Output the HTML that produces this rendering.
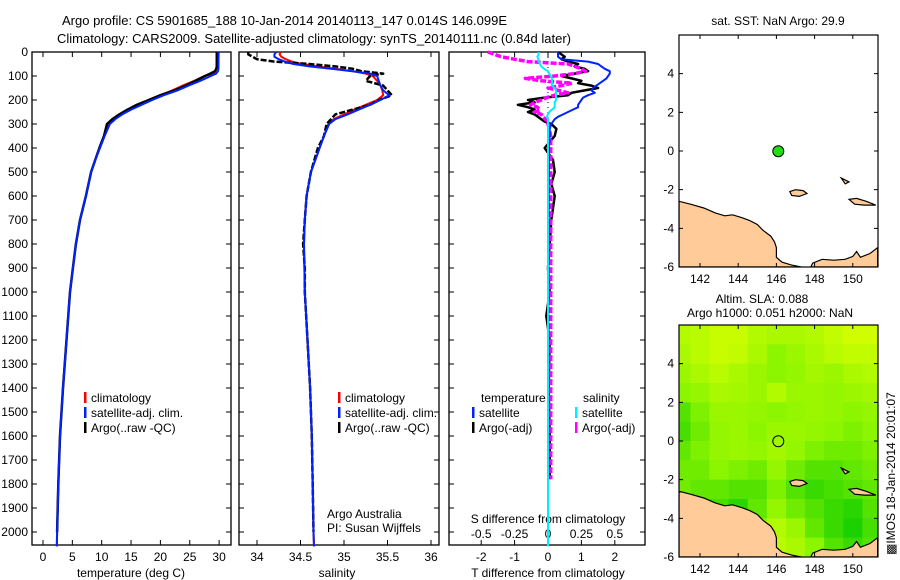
<!DOCTYPE html>
<html><head><meta charset="utf-8">
<style>
html,body{margin:0;padding:0;background:#fff;}
svg{display:block;font-family:"Liberation Sans",sans-serif;}
text{font-size:12px;fill:#000;}
</style></head>
<body>
<svg id="chart" width="900" height="580" viewBox="0 0 900 580" xmlns="http://www.w3.org/2000/svg">
<text x="62" y="25" style="font-size:13px">Argo profile: CS 5901685_188 10-Jan-2014 20140113_147 0.014S 146.099E</text>
<text x="57" y="43" style="font-size:13px">Climatology: CARS2009. Satellite-adjusted climatology: synTS_20140111.nc (0.84d later)</text>
<g id="g1"></g>
<g id="g2"></g>
<g id="g3"></g>
<g id="m1"></g>
<g id="m2"></g>
<text transform="translate(895,555) rotate(-90)" style="font-size:12px">&#9641;IMOS 18-Jan-2014 20:01:07</text>
</svg>
<script>
// ---- profile data ----
const depth = [0,10,20,30,40,50,60,70,80,90,100,120,140,160,180,200,220,240,260,280,300,350,400,450,500,600,700,800,900,1000,1200,1400,1600,1800,2000,2060];
const tSat  = [29.9,29.9,29.9,29.9,29.9,29.9,29.9,29.9,29.8,29.5,28.6,26.8,24.8,22.9,20.6,18.6,16.8,15.0,13.5,12.3,11.4,10.5,9.7,8.9,8.2,7.3,6.3,5.6,5.1,4.6,4.0,3.4,2.9,2.6,2.4,2.35];
const tClim = [29.6,29.6,29.6,29.6,29.6,29.6,29.6,29.5,29.4,29.0,27.5,25.8,23.8,22.0,20.0,18.2,16.2,14.5,13.2,12.1,11.3,10.5,9.7,8.9,8.2,7.3,6.3,5.6,5.1,4.6,4.0,3.4,2.9,2.6,2.4,2.35];
const tArgo = [29.6,29.6,29.6,29.6,29.6,29.6,29.6,29.5,29.3,28.5,27.6,26.0,24.3,22.4,20.0,18.0,16.0,14.4,13.0,11.8,10.9,10.4,9.6,8.9,8.2,7.3,6.3,5.6,5.1,4.6,4.0,3.4,2.9,2.6,2.4,null];
const sSat  = [34.22,34.2,34.2,34.25,34.32,34.42,34.6,34.85,35.1,35.3,35.38,35.4,35.42,35.45,35.52,35.42,35.3,35.17,35.04,34.9,34.83,34.77,34.72,34.67,34.62,34.57,34.55,34.54,34.545,34.55,34.58,34.61,34.63,34.64,34.65,34.655];
const sClim = [34.27,34.26,34.28,34.33,34.4,34.52,34.7,34.9,35.1,35.25,35.33,35.38,35.42,35.44,35.45,35.38,35.25,35.12,35.0,34.88,34.82,34.77,34.72,34.67,34.62,34.57,34.55,34.54,34.545,34.55,34.58,34.61,34.63,34.64,34.65,34.655];
const sArgo = [33.9,33.9,33.95,34.0,34.2,34.6,34.9,35.1,35.2,35.45,35.3,35.25,35.45,35.5,35.55,35.4,35.3,35.1,34.9,34.85,34.8,34.77,34.7,34.66,34.62,34.57,34.55,34.53,34.55,34.55,34.58,34.61,34.63,34.64,34.65,null];
// ---- difference data ----
const dDepth = [0,10,20,30,40,50,60,70,80,90,100,110,120,130,140,150,160,170,180,190,200,210,220,230,240,250,260,270,280,290,300,320,350,400,450,500,550,600,700,800,900,1000,1100,1200,1400,1600,1780,2060];
const dTSat  = [0.3,0.3,0.3,0.4,1.2,1.5,1.6,1.7,1.85,1.85,1.8,1.75,1.65,1.55,1.45,1.35,1.3,1.4,1.2,1.05,1.0,0.95,0.9,0.9,0.75,0.6,0.45,0.3,0.2,0.15,0.1,0.05,0.05,0.03,0.03,0.03,0.02,0.02,0.02,0.01,0.01,0.01,0.01,0.01,0.01,0.01,0.01,null];
const dTArgo = [0.3,0.4,0.5,0.4,0.6,0.9,0.8,1.1,1.2,0.8,0.4,0.7,1.0,0.9,1.3,1.5,1.1,0.7,0.6,-0.1,-0.6,-0.4,-0.9,-0.6,-0.4,-0.6,-0.4,-0.3,-0.2,-0.1,0.1,0.25,0.2,-0.1,0.15,0.2,0.1,0.2,0.1,0.05,0.0,0.05,-0.05,0.05,0.02,0.05,0.05,null];
const dSSat  = [-0.07,-0.07,-0.08,-0.07,-0.07,-0.06,-0.05,-0.03,0,0.01,0.02,0.03,0.03,0.03,0.03,0.05,0.06,0.06,0.06,0.06,0.06,0.05,0.05,0.05,0.03,0.01,0,-0.01,0,0,0,0,0,0,0,0,0,0,0,0,0,0,0,0,0,0,0,0];
const dSArgo = [-0.45,-0.4,-0.35,-0.25,-0.15,0.15,0.2,0.25,0.28,0.2,0.05,-0.17,-0.05,0.18,0.1,0.0,0.08,0.15,0.05,-0.01,-0.05,-0.1,-0.13,-0.08,-0.06,-0.1,-0.05,-0.04,-0.02,0,0,0.01,0.02,0.02,0.02,0.02,0.02,0.02,0.02,0.02,0.02,0.02,0.02,0.02,0.02,0.02,0.02,null];
const depthTicks = [0,100,200,300,400,500,600,700,800,900,1000,1100,1200,1300,1400,1500,1600,1700,1800,1900,2000];
const tTicks = [0,5,10,15,20,25,30];
const sTicks = [34,34.5,35,35.5,36];
const dTTicks = [-2,-1,0,1,2];
const dSTicks = [-0.5,-0.25,0,0.25,0.5];
const dSTickLabels = ["-0.5","-0.25","0","0.25","0.5"];
// ---- map data ----
const latTicks = [4,2,0,-2,-4,-6];
const lonTicks = [142,144,146,148,150];
const argoLon = 146.099, argoLat = -0.014;
const slaGrid = [
[0.75,0.8,0.9,0.9,0.75,0.7,0.7,0.75,0.85,0.95,0.95],
[0.7,0.8,0.9,0.85,0.7,0.5,0.6,0.7,0.8,0.85,0.85],
[0.6,0.7,0.8,0.7,0.6,0.5,0.55,0.65,0.6,0.7,0.75],
[0.5,0.55,0.7,0.65,0.6,0.75,0.6,0.6,0.55,0.6,0.65],
[0.3,0.45,0.6,0.6,0.55,0.5,0.55,0.6,0.55,0.5,0.55],
[0.25,0.4,0.55,0.6,0.5,0.6,0.6,0.55,0.5,0.45,0.5],
[0.35,0.45,0.55,0.6,0.55,0.65,0.55,0.45,0.4,0.4,0.45],
[0.4,0.4,0.5,0.45,0.4,0.55,0.4,0.3,0.3,0.35,0.4],
[0.4,0.35,0.35,0.3,0.3,0.45,0.3,0.2,0.25,0.3,0.35],
[0.4,0.3,0.25,0.15,0.35,0.55,0.4,0.3,0.2,0.15,0.3],
[0.5,0.4,0.3,0.3,0.5,0.75,0.6,0.35,0.2,0.1,0.25],
[0.6,0.5,0.4,0.5,0.7,0.8,0.7,0.5,0.3,0.2,0.3]];
const coastMain = [[140.9,-2.6],[141.5,-2.75],[142.2,-2.95],[142.8,-3.2],[143.3,-3.35],[143.7,-3.3],[144.2,-3.45],[144.6,-3.6],[145.0,-3.8],[145.3,-4.1],[145.7,-4.4],[145.9,-4.7],[146.0,-5.0],[146.0,-5.5],[146.3,-5.75],[146.8,-5.9],[147.3,-6.0],[140.9,-6.0]];
const coastSE = [[147.8,-6.0],[147.9,-5.8],[148.4,-5.6],[149.0,-5.65],[149.6,-5.6],[150.0,-5.45],[150.2,-5.2],[150.4,-5.5],[150.9,-5.3],[151.3,-5.0],[151.3,-6.0]];
const island1 = [[146.7,-2.1],[147.0,-2.0],[147.4,-2.05],[147.6,-2.2],[147.2,-2.35],[146.8,-2.3]];
const island2 = [[149.8,-2.5],[150.2,-2.45],[150.7,-2.6],[151.2,-2.8],[150.6,-2.8],[150.1,-2.75]];
const island3 = [[149.4,-1.4],[149.8,-1.6],[149.6,-1.7]];

const svgNS="http://www.w3.org/2000/svg";
function mk(parent,tag,attrs,text){const e=document.createElementNS(svgNS,tag);for(const k in attrs)e.setAttribute(k,attrs[k]);if(text!==undefined)e.textContent=text;parent.appendChild(e);return e;}
const yD = d => 52 + 0.24*d;
const PT={x0:32,x1:231}, PS={x0:239,x1:439}, PD={x0:449,x1:645};
const Y0=52, Y1=545;
const xT = v => 43 + v*5.87;
const xS = v => 257 + (v-34)*87;
const xDT = v => 548 + v*33.4;
const xDS = v => 548 + v*133.6;

function pathFrom(ys, vals, xf, yf){let d="",pen=false;for(let i=0;i<vals.length;i++){if(vals[i]===null||vals[i]===undefined){pen=false;continue;}d+=(pen?"L":"M")+xf(vals[i]).toFixed(1)+","+yf(ys[i]).toFixed(1);pen=true;}return d;}

function frame(g,P,y0,y1){
  const r=mk(g,'rect',{x:P.x0,y:y0,width:P.x1-P.x0,height:y1-y0,fill:'none',stroke:'#000','stroke-width':1.3});
  
  
}
function yTicks(g,P){
  depthTicks.forEach(d=>{
    const t=mk(g,'path',{d:`M${P.x0},${yD(d)}h5M${P.x1},${yD(d)}h-5`,stroke:'#000','stroke-width':1});
    
    
  });
}
function xTicks(g,vals,xf,labels,ylab,y0,y1){
  vals.forEach((v,i)=>{
    const x=xf(v);
    const t=mk(g,'path',{d:`M${x},${y1}v-5M${x},${y0}v5`,stroke:'#000','stroke-width':1});
    
    
    const l=mk(g,'text',{x:x,y:ylab,'text-anchor':'middle'},labels?labels[i]:String(v));
    
    
  });
}
function line(g,ys,vals,xf,color,w,name,dash){
  const p=mk(g,'path',{d:pathFrom(ys,vals,xf,yD),fill:'none',stroke:color,'stroke-width':w,'stroke-linejoin':'round'});
  if(dash)p.setAttribute('stroke-dasharray',dash);
  
  
}
function legendEntry(g,x,y,color,label){
  const m=mk(g,'rect',{x:x,y:y-10,width:2.5,height:11,fill:color});
  
  
  const t=mk(g,'text',{x:x+7,y:y},label);
  
  
}

// Panel 1
const g1=document.getElementById('g1');
frame(g1,PT,Y0,Y1); yTicks(g1,PT);
depthTicks.forEach(d=>{const l=mk(g1,'text',{x:28,y:yD(d)+4,'text-anchor':'end'},String(d));
  
  });
xTicks(g1,tTicks,xT,null,561,Y0,Y1);
mk(g1,'text',{x:131,y:577,'text-anchor':'middle',},'temperature (deg C)');
line(g1,depth,tClim,xT,'#ff0000',2,'temperature-climatology-line');
line(g1,depth,tArgo,xT,'#000',2.5,'temperature-argo-line');
line(g1,depth,tSat,xT,'#0022ff',2,'temperature-satellite-line');
legendEntry(g1,84,402,'#ff0000','climatology');
legendEntry(g1,84,417,'#0022ff','satellite-adj. clim.');
legendEntry(g1,84,432,'#000','Argo(..raw -QC)');

// Panel 2
const g2=document.getElementById('g2');
frame(g2,PS,Y0,Y1); yTicks(g2,PS);
xTicks(g2,sTicks,xS,null,561,Y0,Y1);
mk(g2,'text',{x:337,y:577,'text-anchor':'middle',},'salinity');
line(g2,depth,sClim,xS,'#ff0000',2,'salinity-climatology-line');
line(g2,depth,sArgo,xS,'#000',2.5,'salinity-argo-line','6,2');
line(g2,depth,sSat,xS,'#0022ff',2,'salinity-satellite-line');
legendEntry(g2,338,402,'#ff0000','climatology');
legendEntry(g2,338,417,'#0022ff','satellite-adj. clim.');
legendEntry(g2,338,432,'#000','Argo(..raw -QC)');
mk(g2,'text',{x:327,y:518,},'Argo Australia');
mk(g2,'text',{x:327,y:532,},'PI: Susan Wijffels');

// Panel 3
const g3=document.getElementById('g3');
frame(g3,PD,Y0,Y1); yTicks(g3,PD);
xTicks(g3,dTTicks,xDT,null,561,Y0,Y1);
dSTicks.forEach((v,i)=>{const l=mk(g3,'text',{x:xDS(v),y:538,'text-anchor':'middle'},dSTickLabels[i]);
  
  });
mk(g3,'text',{x:548,y:523,'text-anchor':'middle',},'S difference from climatology');
mk(g3,'text',{x:548,y:577,'text-anchor':'middle',},'T difference from climatology');
mk(g3,'path',{d:`M548,${Y0}V${yD(400)}`,stroke:'#000','stroke-width':1,'stroke-dasharray':'1,4',});
line(g3,dDepth,dTArgo,xDT,'#000',2.5,'t-diff-argo-line');
line(g3,dDepth,dSArgo,xDS,'#ff00ff',3.5,'s-diff-argo-line','6,2');
line(g3,dDepth,dTSat,xDT,'#0022ff',2,'t-diff-satellite-line');
line(g3,dDepth,dSSat,xDS,'#00eeff',2,'s-diff-satellite-line');
mk(g3,'text',{x:481,y:402,},'temperature');
mk(g3,'text',{x:583,y:402,},'salinity');
legendEntry(g3,472,417,'#0022ff','satellite');
legendEntry(g3,472,432,'#000','Argo(-adj)');
legendEntry(g3,575,417,'#00eeff','satellite');
legendEntry(g3,575,432,'#ff00ff','Argo(-adj)');

// Maps
const MX0=679, MX1=878;
const xLon = lon => 700 + (lon-142)*19.1;
function colorFor(v){
  const a=[0,200,0], b=[140,245,0], c=[215,255,0];
  let p,q,t; if(v<0.5){p=a;q=b;t=v/0.5;}else{p=b;q=c;t=(v-0.5)/0.5;}
  return `rgb(${Math.round(p[0]+(q[0]-p[0])*t)},${Math.round(p[1]+(q[1]-p[1])*t)},${Math.round(p[2]+(q[2]-p[2])*t)})`;
}
function drawMap(g,top,bottom,withSla){
  const yLat = lat => top + (6-lat)*(bottom-top)/12;
  const clipId='clip'+top;
  const cp=mk(g,'clipPath',{id:clipId}); mk(cp,'rect',{x:MX0,y:top,width:MX1-MX0,height:bottom-top});
  const inner=mk(g,'g',{'clip-path':`url(#${clipId})`});
  if(withSla){
    slaGrid.forEach((row,r)=>row.forEach((v,c)=>{
      const lon0=141+c, lat0=6-r;
      const cell=mk(inner,'rect',{x:xLon(lon0-0.5).toFixed(1),y:yLat(lat0).toFixed(1),width:(19.1*1.0+0.6).toFixed(1),height:(19.35+0.6).toFixed(1),fill:colorFor(v)});
      
      
    }));
  }
  [coastMain,coastSE,island1,island2,island3].forEach((poly,i)=>{
    const p=mk(inner,'polygon',{points:poly.map(q=>xLon(q[0]).toFixed(1)+','+yLat(q[1]).toFixed(1)).join(' '),fill:'#ffcc99',stroke:'#000','stroke-width':1.2});
    
    
  });
  const dot=mk(g,'circle',{cx:xLon(argoLon),cy:yLat(argoLat),r:5.5,fill:withSla?'none':'#22dd11',stroke:'#000','stroke-width':1});
  
  
  const fr=mk(g,'rect',{x:MX0,y:top,width:MX1-MX0,height:bottom-top,fill:'none',stroke:'#000','stroke-width':1.2});
  
  
  latTicks.forEach(l=>{
    const y=yLat(l);
    mk(g,'path',{d:`M${MX0},${y}h4M${MX1},${y}h-4`,stroke:'#000',});
    const t=mk(g,'text',{x:674,y:y+4,'text-anchor':'end'},String(l));
    
    
  });
  lonTicks.forEach(l=>{
    const x=xLon(l);
    mk(g,'path',{d:`M${x},${top}v4M${x},${bottom}v-4`,stroke:'#000',});
    const t=mk(g,'text',{x:x,y:bottom+16,'text-anchor':'middle'},String(l));
    
    
  });
}
const m1=document.getElementById('m1');
drawMap(m1,35,267,false);
mk(m1,'text',{x:778,y:25,'text-anchor':'middle',},'sat. SST: NaN Argo: 29.9');
const m2=document.getElementById('m2');
drawMap(m2,325,557,true);
mk(m2,'text',{x:762,y:303,'text-anchor':'middle',},'Altim. SLA: 0.088');
mk(m2,'text',{x:770,y:317,'text-anchor':'middle',},'Argo h1000: 0.051 h2000: NaN');
</script>
</body></html>
